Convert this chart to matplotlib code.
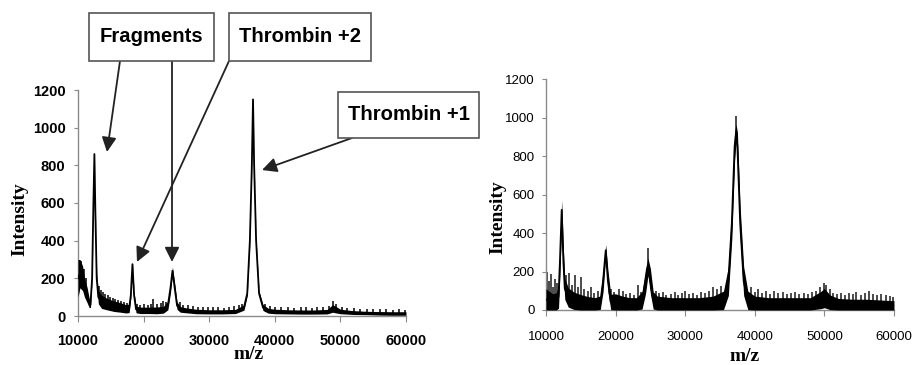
import numpy as np
import matplotlib.pyplot as plt
from matplotlib.patches import Rectangle

# figure is 914 x 365 px, helpers work in pixel coords measured from the top-left
W, H = 914, 365

# ---- left spectrum (annotated) ----
# m/z, centre of the trace, half-thickness of the noise band
left_mz = [10000, 10300, 10700, 11000, 11400, 11700, 11900, 12150, 12350, 12500, 12650, 12850,
           13100, 13600, 14500, 15500, 16500, 17300, 17800, 18050, 18300, 18550, 18850,
           19500, 21000, 22000, 23000, 23700, 24100, 24400, 24700, 25100, 25600, 26500,
           28000, 30000, 32000, 34000, 35300, 35800, 36200, 36500, 36680, 36850, 37150,
           37600, 38200, 39000, 40000, 42000, 44000, 46000, 48000, 48800, 49200, 50000,
           52000, 54000, 56000, 58000, 60000]
left_int = [200, 225, 200, 150, 110, 70, 60, 200, 600, 860, 550, 200,
            100, 75, 62, 52, 45, 38, 40, 110, 275, 110, 35,
            30, 30, 30, 33, 55, 150, 240, 160, 55, 35, 30,
            24, 22, 22, 24, 45, 120, 400, 800, 1150, 800, 400,
            120, 45, 28, 24, 22, 21, 21, 23, 40, 35, 24,
            18, 16, 14, 13, 13]
left_half = [100, 75, 65, 50, 40, 25, 15, 10, 10, 8, 10, 25,
             35, 35, 30, 28, 25, 22, 22, 15, 10, 15, 18,
             17, 17, 18, 18, 22, 25, 20, 25, 20, 15, 13,
             12, 11, 11, 11, 14, 12, 10, 10, 8, 10, 10,
             12, 16, 13, 12, 11, 11, 11, 12, 20, 18, 12,
             10, 9, 9, 9, 9]
left_spike_mz = [10200, 10500, 10900, 11200, 13200, 13500, 13800, 14100, 14500, 14900,
                 15300, 15700, 16100, 16600, 17000, 17500, 19000, 19500, 20000, 20600,
                 21100, 21500, 22100, 22600, 23000, 23400, 25500, 26000, 26800, 27500,
                 28300, 29000, 29800, 30600, 31400, 32200, 33000, 33800, 34600, 35000,
                 38500, 39200, 40000, 41000, 42000, 43000, 44000, 44800, 45600, 46500,
                 47300, 48200, 48900, 49400, 50200, 51000, 52000, 53000, 54000, 55000,
                 56000, 57000, 58000, 59000, 59800]
left_spike_int = [300, 290, 250, 200, 160, 140, 125, 115, 110, 100,
                  95, 90, 85, 80, 72, 68, 62, 58, 62, 58,
                  62, 90, 62, 68, 78, 72, 72, 58, 58, 52,
                  50, 46, 48, 46, 47, 45, 47, 52, 56, 62,
                  62, 52, 50, 46, 47, 44, 47, 46, 44, 47,
                  46, 52, 78, 62, 46, 42, 40, 38, 36, 36,
                  38, 35, 34, 35, 34]

# ---- right spectrum ----
right_mz = [10000, 10500, 11000, 11500, 11800, 12000, 12255, 12500, 12700, 13200, 14000,
            15000, 16000, 17000, 17800, 18200, 18580, 18900, 19300, 20000, 21000, 22000,
            23000, 23800, 24300, 24650, 25000, 25400, 26000, 28000, 30000, 32000, 34000,
            35500, 36200, 36700, 37100, 37300, 37500, 37900, 38400, 39000, 40000, 42000,
            44000, 46000, 48000, 49500, 50000, 50800, 52000, 54000, 56000, 58000, 60000]
right_int = [55, 48, 42, 45, 70, 250, 520, 250, 110, 65, 48,
             40, 35, 32, 38, 150, 310, 150, 42, 42, 36, 32,
             32, 50, 150, 225, 150, 50, 36, 32, 32, 32, 36,
             50, 150, 450, 850, 920, 850, 450, 150, 50, 36, 32,
             32, 32, 32, 52, 62, 40, 30, 28, 28, 26, 24]
right_half = [55, 48, 42, 45, 60, 70, 50, 70, 55, 50, 45,
              40, 35, 32, 35, 55, 30, 55, 40, 42, 36, 32,
              32, 45, 65, 45, 65, 45, 36, 32, 32, 32, 36,
              48, 75, 80, 75, 45, 75, 80, 75, 48, 36, 32,
              32, 32, 32, 45, 50, 38, 30, 28, 28, 26, 24]
right_spike_mz = [10100, 10400, 10700, 11000, 11300, 11600, 12900, 13300, 13700, 14200,
                  14600, 15000, 15500, 16000, 16400, 16900, 17400, 19400, 19800, 20500,
                  21000, 21500, 22000, 22600, 23200, 23600, 24650, 25800, 26300, 26800,
                  27300, 27900, 28500, 29000, 29600, 30000, 30600, 31100, 31700, 32300,
                  32800, 33400, 34000, 34600, 35100, 37300, 38900, 39400, 40000, 40500,
                  41000, 41600, 42200, 42800, 43400, 44000, 44600, 45200, 45800, 46400,
                  47000, 47600, 48200, 48800, 49400, 49900, 50300, 50800, 51300, 51800,
                  52400, 53000, 53500, 54100, 54600, 55200, 55800, 56400, 57000, 57600,
                  58200, 58800, 59400, 59900]
right_spike_int = [200, 150, 185, 120, 160, 140, 180, 190, 130, 180,
                   120, 170, 110, 100, 120, 90, 100, 110, 95, 110,
                   100, 85, 90, 80, 130, 95, 320, 100, 90, 95,
                   80, 85, 95, 80, 90, 100, 85, 90, 80, 95,
                   90, 100, 120, 110, 125, 1010, 110, 120, 95, 110,
                   90, 100, 85, 100, 90, 95, 85, 90, 95, 85,
                   90, 85, 95, 100, 120, 140, 130, 110, 90, 85,
                   90, 80, 90, 85, 95, 80, 90, 100, 85, 80,
                   85, 80, 75, 70]

x_ticks = [10000, 20000, 30000, 40000, 50000, 60000]
y_ticks = [0, 200, 400, 600, 800, 1000, 1200]


def ax_rect(x0, y0, x1, y1):
    return [x0 / W, (H - y1) / H, (x1 - x0) / W, (y1 - y0) / H]


def fig_xy(x, y):
    return (x / W, (H - y) / H)


def draw_spectrum(ax, mz, inten, half, sp_mz, sp_int, sp_color):
    lo = [max(c - h, 0) for c, h in zip(inten, half)]
    hi = [c + h for c, h in zip(inten, half)]
    # spikes start from the trace itself so nothing crosses the white under the peaks
    base = np.interp(sp_mz, mz, inten)
    ax.vlines(sp_mz, base, sp_int, color=sp_color, lw=1.1, zorder=2)
    ax.fill_between(mz, lo, hi, color='black', lw=0, zorder=3)
    ax.plot(mz, inten, color='black', lw=1.3, zorder=4)


def style_axes(ax, tick_font, tick_size, tick_weight, xpad, ypad):
    ax.set_xlim(10000, 60000)
    ax.set_ylim(0, 1200)
    ax.set_xticks(x_ticks)
    ax.set_yticks(y_ticks)
    for s in ['top', 'right']:
        ax.spines[s].set_visible(False)
    for s in ['left', 'bottom']:
        ax.spines[s].set_color('#8a8a8a')
        ax.spines[s].set_linewidth(1.0)
    ax.tick_params(axis='x', direction='out', length=4, color='#8a8a8a', pad=xpad)
    ax.tick_params(axis='y', direction='out', length=3, color='#8a8a8a', pad=ypad)
    for lab in ax.get_xticklabels() + ax.get_yticklabels():
        lab.set_fontfamily(tick_font)
        lab.set_fontsize(tick_size)
        lab.set_fontweight(tick_weight)
    ax.set_xlabel('m/z', family='Liberation Serif', weight='bold', fontsize=14, va='center')
    ax.set_ylabel('Intensity', family='Liberation Serif', weight='bold', fontsize=14, va='center')


fig = plt.figure(figsize=(9.14, 3.65), dpi=100)

ax1 = fig.add_axes(ax_rect(78, 90, 406, 316))
draw_spectrum(ax1, left_mz, left_int, left_half, left_spike_mz, left_spike_int, 'black')
style_axes(ax1, 'Liberation Sans', 10.5, 'bold', 9, 6)
ax1.xaxis.set_label_coords(0.52, -0.17)
ax1.yaxis.set_label_coords(-0.177, 0.43)

ax2 = fig.add_axes(ax_rect(546, 79, 894, 310))
draw_spectrum(ax2, right_mz, right_int, right_half, right_spike_mz, right_spike_int, '#1a1a1a')
style_axes(ax2, 'Liberation Sans', 9.5, 'normal', 11, 5)
ax2.xaxis.set_label_coords(0.57, -0.20)
ax2.yaxis.set_label_coords(-0.138, 0.40)

# label boxes (pixel boxes from the top-left)
boxes = [('Fragments', 89, 13, 214, 61),
         ('Thrombin +2', 229, 13, 371, 61),
         ('Thrombin +1', 338, 92, 479, 138)]
for txt, x0, y0, x1, y1 in boxes:
    fig.add_artist(Rectangle(fig_xy(x0, y1), (x1 - x0) / W, (y1 - y0) / H,
                             transform=fig.transFigure, fill=True, facecolor='white',
                             edgecolor='#555555', lw=1.2, zorder=5))
    cx, cy = fig_xy((x0 + x1) / 2, (y0 + y1) / 2)
    fig.text(cx, cy, txt, ha='center', va='center', family='Liberation Sans',
             weight='bold', fontsize=14.6, zorder=6)

# arrows: tail in figure pixels, tip in data coords of the left panel
arrows = [((120, 61), (14420, 871)),
          ((172, 61), (24330, 287)),
          ((229, 61), (18990, 287)),
          ((352, 138), (38050, 775))]
for (tx, ty), tip in arrows:
    ax1.annotate('', xy=tip, xycoords='data',
                 xytext=fig_xy(tx, ty), textcoords='figure fraction',
                 arrowprops=dict(arrowstyle='-|>', mutation_scale=22, color='#222222',
                                 lw=1.3, shrinkA=0, shrinkB=0),
                 annotation_clip=False, zorder=6)

fig.savefig('out.png', dpi=100)
